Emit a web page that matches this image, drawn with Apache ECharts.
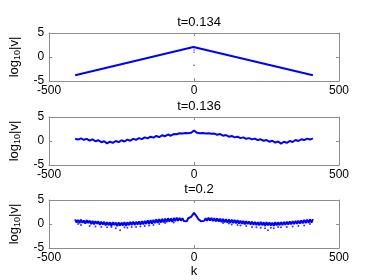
<!DOCTYPE html>
<html><head><meta charset="utf-8">
<script src="https://cdn.jsdelivr.net/npm/echarts@6/dist/echarts.min.js"></script>
<style>html,body{margin:0;padding:0;background:#fff}#c{width:374px;height:280px}</style>
</head><body><div id="c"></div>
<script>
// ---- data ----
var titles = ['t=0.134', 't=0.136', 't=0.2'];
var xTicks = [-500, 0, 500];
var yTicks = [-5, 0, 5];

// panel 1: straight line in log scale (breakpoints) + stray points at k=0
var k1 = [-410, -2, 0, 2, 410];
var v1 = [-3.8, 2.1, 2.35, 2.05, -3.8];
var k1dots = [0, 0, 0];
var v1dots = [1.45, 1.0, -1.7];

// panel 2: step 10 from -410 to 410 (with spike at 0)
var k2 = [-410,-400,-390,-380,-370,-360,-350,-340,-330,-320,-310,-300,-290,-280,-270,-260,-250,-240,-230,-220,-210,-200,-190,-180,-170,-160,-150,-140,-130,-120,-110,-100,-90,-80,-70,-60,-50,-40,-30,-20,-10,0,10,20,30,40,50,60,70,80,90,100,110,120,130,140,150,160,170,180,190,200,210,220,230,240,250,260,270,280,290,300,310,320,330,340,350,360,370,380,390,400,410];
var v2 = [0.45,0.3,0.55,0.25,0.45,0.1,0.35,-0.05,0.15,-0.25,-0.05,-0.5,-0.15,-0.4,0.0,-0.25,0.15,-0.1,0.3,0.05,0.45,0.25,0.6,0.4,0.75,0.55,0.9,0.7,1.05,0.8,1.2,1.0,1.35,1.1,1.45,1.4,1.6,1.55,1.65,1.6,1.7,2.2,1.7,1.6,1.65,1.55,1.6,1.5,1.55,1.3,1.45,1.1,1.25,0.9,1.05,0.75,0.9,0.6,0.75,0.45,0.6,0.35,0.5,0.2,0.35,0.05,0.2,-0.15,0.05,-0.35,-0.1,-0.55,-0.15,-0.4,0.0,-0.2,0.2,0.0,0.35,0.2,0.5,0.3,0.55];

// panel 3: noisy band, step 5 from -410 to 410
var k3start = -410, k3step = 5;
var v3 = [
0.95,0.3,0.85,0.2,0.9,0.25,0.75,0.1,0.8,0.2,
0.7,0.0,0.65,-0.05,0.6,0.05,0.55,-0.2,0.5,-0.1,
0.45,-0.3,0.4,-0.25,0.35,-0.4,0.4,-0.2,0.3,-0.45,
0.35,-0.35,0.3,-0.3,0.4,-0.4,0.35,-0.25,0.45,-0.2,
0.5,-0.2,0.45,-0.1,0.55,-0.15,0.6,-0.05,0.65,0.0,
0.75,0.05,0.8,0.1,0.85,0.2,0.95,0.25,1.0,0.3,
1.05,0.35,1.1,0.4,1.2,0.5,1.15,0.45,1.25,0.6,
1.3,0.65,1.25,0.7,1.2,0.6,0.9,0.55,1.2,1.0,
1.5,1.9,2.3,1.9,1.5,1.0,1.2,0.55,0.9,0.65,
1.2,0.65,1.3,0.7,1.25,0.6,1.2,0.55,1.15,0.5,
1.1,0.4,1.05,0.35,1.0,0.3,0.95,0.25,0.9,0.2,
0.85,0.15,0.8,0.1,0.7,0.05,0.65,-0.05,0.6,0.0,
0.55,-0.1,0.5,-0.15,0.45,-0.2,0.4,-0.3,0.45,-0.25,
0.35,-0.4,0.4,-0.3,0.35,-0.35,0.3,-0.4,0.4,-0.3,
0.35,-0.25,0.4,-0.2,0.45,-0.15,0.5,-0.1,0.55,-0.05,
0.6,0.0,0.65,0.05,0.7,0.1,0.75,0.15,0.85,0.2,
0.9,0.25,0.95,0.3,1.0];
var k3dots = [-400,-390,-360,-340,-320,-300,-285,-270,-255,-240,-230,-215,-200,-185,-170,-155,-140,-120,-100,-70,100,120,130,150,160,180,200,215,230,245,255,265,275,290,300,320,340,360,380,400];
var v3dots = [0.0,-0.2,-0.4,-0.5,-0.6,-0.7,-0.6,-0.9,-1.3,-0.7,-0.8,-0.6,-0.6,-0.5,-0.4,-0.3,-0.2,0.0,0.2,0.3,0.2,0.1,-0.1,-0.2,-0.3,-0.4,-0.6,-0.7,-0.8,-0.9,-1.3,-0.8,-0.9,-0.6,-0.7,-0.6,-0.5,-0.4,-0.3,0.0];

// ---- chart ----
var FONT = 'Liberation Sans, Arial, sans-serif';
var BLUE = '#0000ff';
var FRAME = '#8c8c8c';
function zip(a, b){ return a.map(function(x,i){ return [x, b[i]]; }); }
var data3 = v3.map(function(v,i){ return [k3start + i*k3step, v]; });

var tops = [33, 117, 200];
var grids = [], xAxes = [], yAxes = [], series = [], titleArr = [];
tops.forEach(function(t, g){
  grids.push({left: 49, width: 290, top: t, height: 48});
  titleArr.push({text: titles[g], left: 194, textAlign: 'center', top: t - 22,
    textStyle: {fontFamily: FONT, fontSize: 13, fontWeight: 'normal', color: '#000'}});
  var ax = {type: 'value', gridIndex: g, min: -500, max: 500, interval: 500,
    axisLine: {show: true, onZero: false, lineStyle: {color: FRAME, width: 1}},
    axisTick: {show: true, inside: true, length: 3, lineStyle: {color: FRAME}},
    splitLine: {show: false}};
  xAxes.push(Object.assign({}, ax, {position: 'bottom',
    axisLabel: {show: true, fontFamily: FONT, fontSize: 12, color: '#000', margin: 4,
      formatter: function(v){ return xTicks.indexOf(v) >= 0 ? String(v) : ''; }},
    name: g === 2 ? 'k' : '', nameLocation: 'middle', nameGap: 17,
    nameTextStyle: {fontFamily: FONT, fontSize: 13, color: '#000'}}));
  xAxes.push(Object.assign({}, ax, {position: 'top', axisLabel: {show: false}}));
  var ay = {type: 'value', gridIndex: g, min: -5, max: 5, interval: 5,
    axisLine: {show: true, onZero: false, lineStyle: {color: FRAME, width: 1}},
    axisTick: {show: true, inside: true, length: 3, lineStyle: {color: FRAME}},
    splitLine: {show: false}};
  yAxes.push(Object.assign({}, ay, {position: 'left',
    axisLabel: {show: true, fontFamily: FONT, fontSize: 12, color: '#000', margin: 5,
      formatter: function(v){ return yTicks.indexOf(v) >= 0 ? String(v) : ''; }},
    name: '{a|log}{b|10}{a||v|}', nameLocation: 'middle', nameRotate: 90, nameGap: 20,
    nameTextStyle: {fontFamily: FONT, fontSize: 13, color: '#000',
      rich: {a: {fontFamily: FONT, fontSize: 13, color: '#000'},
             b: {fontFamily: FONT, fontSize: 9, color: '#000', verticalAlign: 'bottom', padding: [7, 0, 0, 0]}}}}));
  yAxes.push(Object.assign({}, ay, {position: 'right', axisLabel: {show: false}}));
});

series.push({type: 'line', xAxisIndex: 0, yAxisIndex: 0, data: zip(k1, v1), showSymbol: false,
  lineStyle: {color: BLUE, width: 2}, animation: false});
series.push({type: 'scatter', xAxisIndex: 0, yAxisIndex: 0, data: zip(k1dots, v1dots), symbolSize: 1.5,
  itemStyle: {color: BLUE}, animation: false});
series.push({type: 'line', xAxisIndex: 2, yAxisIndex: 2, data: zip(k2, v2), showSymbol: false,
  lineStyle: {color: BLUE, width: 2}, animation: false});
series.push({type: 'line', xAxisIndex: 4, yAxisIndex: 4, data: data3, showSymbol: false, sampling: 'none',
  lineStyle: {color: BLUE, width: 2}, animation: false});
series.push({type: 'scatter', xAxisIndex: 4, yAxisIndex: 4, data: zip(k3dots, v3dots), symbolSize: 2,
  itemStyle: {color: BLUE}, animation: false});

var chart = echarts.init(document.getElementById('c'), null, {renderer: 'canvas'});
chart.setOption({animation: false, backgroundColor: '#fff', title: titleArr,
  grid: grids, xAxis: xAxes, yAxis: yAxes, series: series});
</script></body></html>
